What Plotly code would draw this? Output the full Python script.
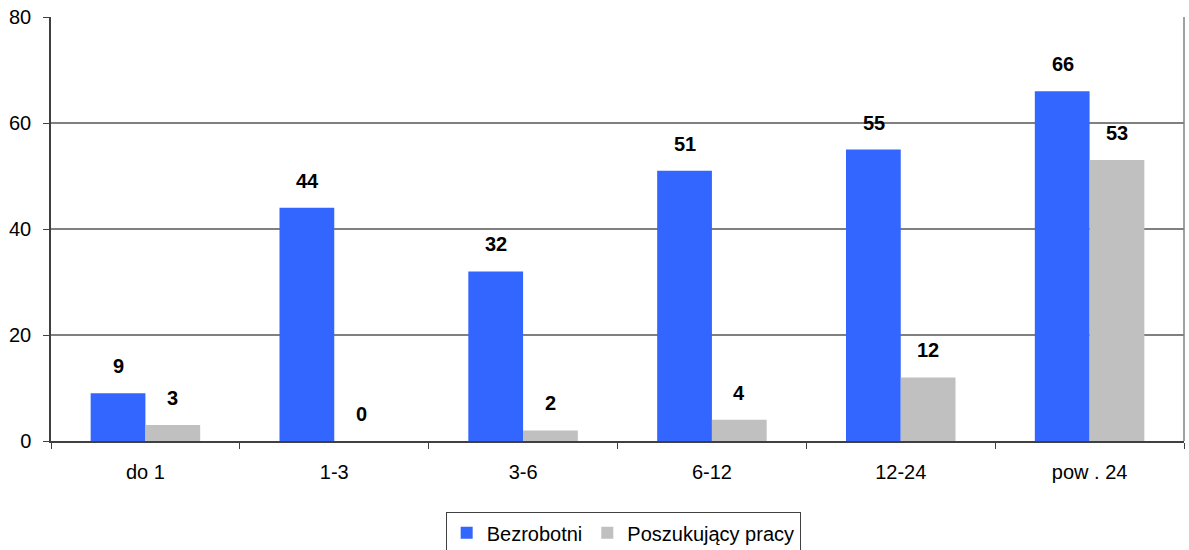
import plotly.graph_objects as go

categories = ["do 1", "1-3", "3-6", "6-12", "12-24", "pow . 24"]
bezrobotni = [9, 44, 32, 51, 55, 66]
poszukujacy = [3, 0, 2, 4, 12, 53]
y_ticks = [0, 20, 40, 60, 80]

BLUE = "#3366FF"
GRAY = "#C0C0C0"
FONT = "Liberation Sans, Arial, sans-serif"

fig = go.Figure()
fig.add_trace(go.Bar(x=categories, y=bezrobotni, name="Bezrobotni",
                     marker=dict(color=BLUE, line=dict(width=0))))
fig.add_trace(go.Bar(x=categories, y=poszukujacy, name="Poszukujący pracy",
                     marker=dict(color=GRAY, line=dict(width=0))))

for cat, v in zip(categories, bezrobotni):
    fig.add_annotation(x=cat, y=v, text=f"<b>{v}</b>", showarrow=False,
                       xshift=-27, yshift=27, font=dict(size=20, color="black", family=FONT))
for cat, v in zip(categories, poszukujacy):
    fig.add_annotation(x=cat, y=v, text=f"<b>{v}</b>", showarrow=False,
                       xshift=27, yshift=27, font=dict(size=20, color="black", family=FONT))

fig.add_shape(type="line", xref="x domain", yref="y domain", x0=1, x1=1, y0=0, y1=1,
              line=dict(color="#808080", width=1.5))

fig.update_layout(
    width=1189, height=550,
    margin=dict(l=51, r=5, t=17, b=109, autoexpand=False),
    paper_bgcolor="white", plot_bgcolor="white",
    barmode="group", bargap=0.42, bargroupgap=0,
    font=dict(family=FONT, size=20, color="black"),
    showlegend=True,
    legend=dict(orientation="h", x=0.505, xanchor="center", y=-0.168, yanchor="top",
                bordercolor="#404040", borderwidth=1, font=dict(size=20, family=FONT),
                itemwidth=30, tracegroupgap=0, traceorder="normal"),
    xaxis=dict(type="category", showline=True, linecolor="#404040", linewidth=1.5,
               ticks="outside", tickson="boundaries", ticklen=6, tickcolor="#404040",
               showgrid=False, ticklabelstandoff=12, tickfont=dict(size=20),
               automargin=False),
    yaxis=dict(range=[0, 80], tickvals=y_ticks, showline=True, linecolor="#404040",
               linewidth=1.5, ticks="outside", ticklen=6, tickcolor="#404040",
               showgrid=True, gridcolor="#808080", gridwidth=1.5, zeroline=False,
               tickfont=dict(size=20), ticklabelstandoff=8, automargin=False),
)

fig.write_html("out.html", config={"displayModeBar": False},
               post_script="document.body.style.margin='0';document.body.style.overflow='hidden';")
